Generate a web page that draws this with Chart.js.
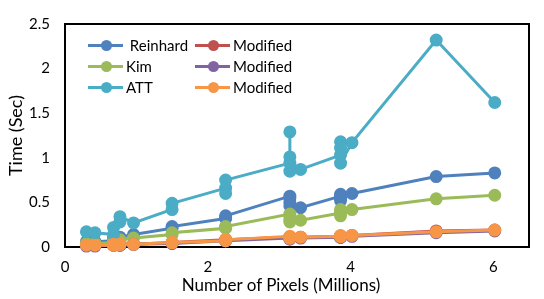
<!DOCTYPE html>
<html>
<head>
<meta charset="utf-8">
<script src="https://cdn.jsdelivr.net/npm/chart.js@4.4.1/dist/chart.umd.min.js"></script>
<style>
  body { margin: 0; background: #fff; }
  #wrap { position: relative; width: 544px; height: 299px; }
  #legend { position: absolute; left: 0; top: 0; font: 15px Lato, sans-serif; color: #000; }
  .item { position: absolute; height: 20px; display: flex; align-items: center; white-space: pre; }
  .swatch { position: relative; width: 35px; height: 3px; margin-right: 3px; }
  .swatch span { position: absolute; left: 13px; top: -4px; width: 11px; height: 11px; border-radius: 50%; }
  #xtitle { position: absolute; left: 0; width: 562px; top: 274px; line-height: 22px;
            text-align: center; font: 17px Lato, sans-serif; color: #000; }
</style>
</head>
<body>
<div id="wrap">
  <canvas id="chart"></canvas>
  <div id="legend"></div>
  <div id="xtitle"></div>
</div>
<script>
// image sizes in megapixels, shared by every series
const pixels = [0.30, 0.42, 0.68, 0.68, 0.77, 0.77, 0.96, 1.50, 1.50, 2.25, 2.25, 2.25,
  3.15, 3.15, 3.15, 3.15, 3.30, 3.86, 3.86, 3.86, 3.86, 4.02, 5.20, 6.02];

const reinhard  = [0.06, 0.06, 0.07, 0.10, 0.09, 0.11, 0.14, 0.21, 0.23, 0.32, 0.33, 0.35,
  0.57, 0.55, 0.50, 0.46, 0.44, 0.57, 0.52, 0.59, 0.55, 0.60, 0.79, 0.83];
const modified1 = [0.02, 0.02, 0.02, 0.03, 0.03, 0.03, 0.03, 0.05, 0.05, 0.08, 0.08, 0.08,
  0.11, 0.11, 0.10, 0.10, 0.11, 0.12, 0.12, 0.12, 0.12, 0.13, 0.18, 0.19];
const kim       = [0.04, 0.04, 0.05, 0.07, 0.07, 0.08, 0.10, 0.14, 0.16, 0.21, 0.22, 0.23,
  0.37, 0.35, 0.31, 0.28, 0.30, 0.38, 0.35, 0.42, 0.40, 0.42, 0.54, 0.58];
const modified2 = [0.01, 0.01, 0.02, 0.02, 0.02, 0.02, 0.03, 0.04, 0.04, 0.07, 0.07, 0.07,
  0.10, 0.10, 0.09, 0.09, 0.10, 0.11, 0.11, 0.11, 0.11, 0.12, 0.16, 0.18];
const att       = [0.17, 0.16, 0.14, 0.22, 0.28, 0.34, 0.27, 0.42, 0.49, 0.66, 0.60, 0.75,
  0.94, 1.29, 1.01, 0.85, 0.87, 1.03, 1.18, 1.11, 0.94, 1.17, 2.32, 1.62];
const modified3 = [0.02, 0.02, 0.02, 0.03, 0.03, 0.03, 0.03, 0.05, 0.05, 0.07, 0.08, 0.08,
  0.12, 0.11, 0.10, 0.10, 0.11, 0.12, 0.13, 0.12, 0.12, 0.13, 0.17, 0.19];

const seriesNames  = [' Reinhard', 'Modified', 'Kim', 'Modified', 'ATT', 'Modified'];
const seriesValues = [reinhard, modified1, kim, modified2, att, modified3];
const seriesColors = ['#4F81BD', '#C0504D', '#9BBB59', '#8064A2', '#4BACC6', '#F79646'];

const xTicks = [0, 2, 4, 6];
const yTicks = [0, 0.5, 1, 1.5, 2, 2.5];
const xTitle = 'Number of Pixels (Millions)';
const yTitle = 'Time (Sec)';

const FONT = 'Lato, sans-serif';

const datasets = seriesValues.map((vals, i) => ({
  label: seriesNames[i].trim(),
  data: vals.map((v, k) => ({ x: pixels[k], y: v })),
  borderColor: seriesColors[i],
  backgroundColor: seriesColors[i],
  pointBackgroundColor: seriesColors[i],
  pointBorderColor: seriesColors[i],
  borderWidth: 3,
  pointRadius: 5,
  tension: 0,
  clip: false,
  order: seriesValues.length - 1 - i   // later series drawn on top, like Excel
}));

// black box round the plot area
const plotBox = {
  id: 'plotBox',
  beforeDatasetsDraw(chart) {
    const { ctx, chartArea: a } = chart;
    ctx.save();
    ctx.strokeStyle = '#000';
    ctx.lineWidth = 2;
    ctx.strokeRect(a.left, a.top, a.right - a.left, a.bottom - a.top);
    ctx.restore();
  }
};

new Chart(document.getElementById('chart'), {
  type: 'line',
  data: { datasets },
  plugins: [plotBox],
  options: {
    responsive: true,
    maintainAspectRatio: false,
    animation: false,
    layout: { padding: { top: 20, right: 15, left: 0, bottom: 0 } },
    plugins: { legend: { display: false }, tooltip: { enabled: false } },
    scales: {
      x: {
        type: 'linear',
        min: 0,
        max: 6.5,
        afterBuildTicks: s => { s.ticks = xTicks.map(v => ({ value: v })); },
        afterFit: s => { s.height = 52; },
        grid: { display: false, drawTicks: false },
        border: { display: false },
        ticks: { padding: 11, color: '#000', font: { family: FONT, size: 15 }, callback: v => String(v) }
      },
      y: {
        type: 'linear',
        min: 0,
        max: 2.5,
        afterBuildTicks: s => { s.ticks = yTicks.map(v => ({ value: v })); },
        afterFit: s => { s.width = 65; },
        grid: { display: false, drawTicks: false },
        border: { display: false },
        ticks: { padding: 15, color: '#000', font: { family: FONT, size: 15 }, callback: v => String(v) },
        title: { display: true, text: yTitle, color: '#000',
                 font: { family: FONT, size: 18 }, padding: { top: 5, bottom: 0 } }
      }
    }
  }
});

// x title sits a little left of the plot centre in the original, so it is placed by hand
document.getElementById('xtitle').textContent = xTitle;

// legend laid out as in the original: two columns, three rows
const legend = document.getElementById('legend');
const colLeft = [88, 195];
const rowMid = [45, 66, 87];
seriesNames.forEach((name, i) => {
  const item = document.createElement('div');
  item.className = 'item';
  item.style.left = colLeft[i % 2] + 'px';
  item.style.top = (rowMid[Math.floor(i / 2)] - 10) + 'px';
  const sw = document.createElement('div');
  sw.className = 'swatch';
  sw.style.background = seriesColors[i];
  const dot = document.createElement('span');
  dot.style.background = seriesColors[i];
  sw.appendChild(dot);
  item.appendChild(sw);
  item.appendChild(document.createTextNode(name));
  legend.appendChild(item);
});
</script>
</body>
</html>
